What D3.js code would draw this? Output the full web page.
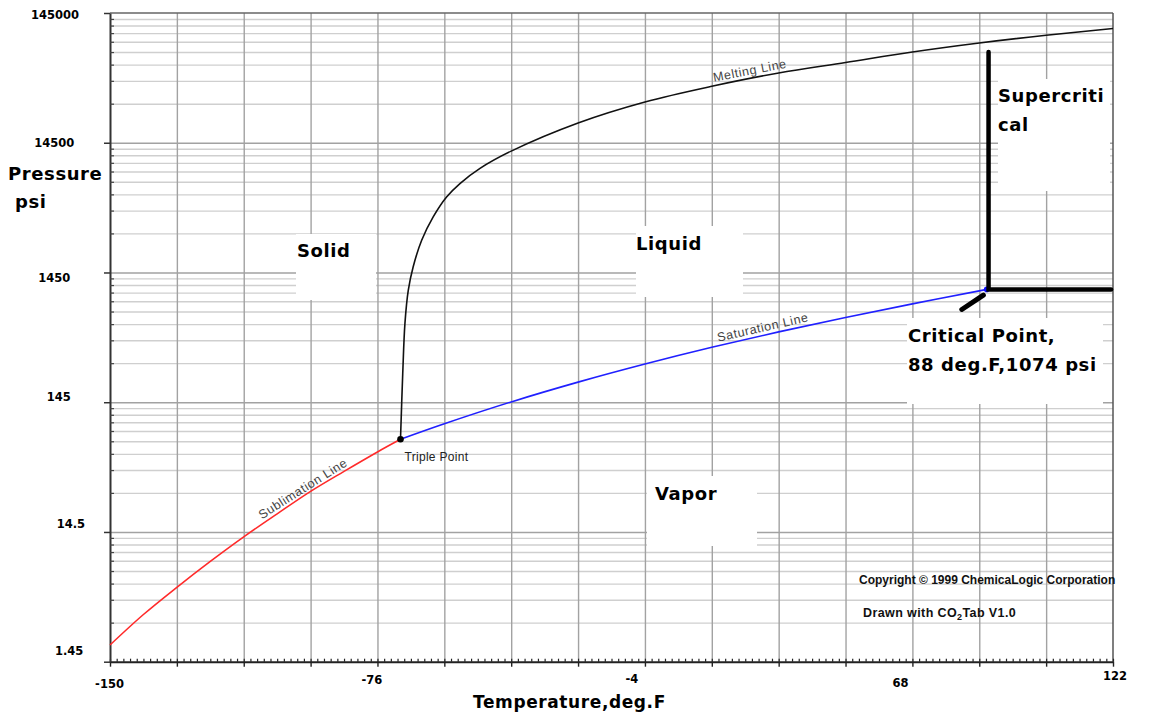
<!DOCTYPE html>
<html>
<head>
<meta charset="utf-8">
<script src="https://cdn.jsdelivr.net/npm/d3@7"></script>
<style>
  html, body { margin: 0; padding: 0; background: #fff; }
  svg { display: block; }
</style>
</head>
<body>
<svg id="chart" width="1149" height="717"></svg>
<script>
// CO2 phase boundaries: temperature in deg F, absolute pressure in psi
const sublimationT = [-148, -139, -130, -121, -112, -103, -94, -85, -76, -69.8];
const sublimationP = [1.95, 3.35, 5.43, 8.6, 13.3, 20.0, 29.8, 42.5, 60, 75.1];

const saturationT = [-69.8, -58, -40, -22, -4, 14, 32, 50, 68, 86, 88];
const saturationP = [75.1, 98.9, 145.8, 207.1, 285.6, 384.2, 505.4, 652.9, 830.9, 1046, 1074];

const meltingT = [-69.8, -69.2, -68.6, -67.7, -66.4, -64.1, -61, -57.4, -53.8, -48.4,
                  -40, -22, -4, 14, 32, 50, 68, 86, 104, 122];
const meltingP = [75.1, 240, 590, 1060, 1600, 2570, 3890, 5540, 7030, 9200,
                  12500, 20600, 29900, 39500, 50000, 60200, 72600, 85200, 97700, 110000];

const triplePoint = { t: -69.8, p: 75.1 };
const criticalPoint = { t: 88, p: 1074 };

// Supercritical region corner and the pointer to the critical point
const supercriticalT = [88.5, 88.5, 121.5];
const supercriticalP = [72600, 1074, 1074];
const pointerT = [87.1, 81.3];
const pointerP = [969, 752];

// Axis ticks
const xDomain = [-148, 122];
const yDomain = [1.45, 145000];
const xTickValues = [-148, -76, -4, 68, 122];
const xTickLabels = ["-150", "-76", "-4", "68", "122"];
const yTickValues = [1.45, 14.5, 145, 1450, 14500, 145000];
const yTickLabels = ["1.45", "14.5", "145", "1450", "14500", "145000"];

// ---- layout ----
const frame = { left: 110, top: 13, right: 1113, bottom: 661.7 };
const boldFont = "'DejaVu Sans', Verdana, sans-serif";
const plainFont = "'Liberation Sans', Arial, sans-serif";
// per-label nudges for tick text (dx from tick, baseline dy from tick)
const xTickNudge = [[-1, 26.6], [-6, 22.3], [-13.5, 21], [-12.5, 25], [1.5, 18.3]];
const yTickNudge = [[55, -7.7], [56.7, -4], [46.7, -1.7], [38.3, 8.7], [34.3, 4], [31, 5.3]];

const svg = d3.select("#chart");
const x = d3.scaleLinear().domain(xDomain).range([frame.left, frame.right]);
const y = d3.scaleLog().domain(yDomain).range([frame.bottom, frame.top]);
const plotW = frame.right - frame.left;
const plotH = frame.bottom - frame.top;

// ---- grid ----
const gridT = d3.range(xDomain[0] + 18, xDomain[1] - 1, 18);
const decades = yTickValues.slice(0, 5);
const minorP = [];
decades.forEach(d => { for (let k = 2; k <= 9; k++) minorP.push(d * k); });
const majorP = yTickValues.slice(1, 5);

svg.append("g")
  .attr("transform", `translate(${frame.left},0)`)
  .call(d3.axisLeft(y).tickValues(minorP).tickSize(-plotW).tickFormat(""))
  .call(g => g.select(".domain").remove())
  .selectAll("line").attr("stroke", "#cfcfcf").attr("stroke-width", 1.4);

svg.append("g")
  .attr("transform", `translate(${frame.left},0)`)
  .call(d3.axisLeft(y).tickValues(majorP).tickSize(-plotW).tickFormat(""))
  .call(g => g.select(".domain").remove())
  .selectAll("line").attr("stroke", "#a2a2a2").attr("stroke-width", 1.4);

svg.append("g")
  .attr("transform", `translate(0,${frame.bottom})`)
  .call(d3.axisBottom(x).tickValues(gridT).tickSize(-plotH).tickFormat(""))
  .call(g => g.select(".domain").remove())
  .selectAll("line").attr("stroke", "#a2a2a2").attr("stroke-width", 1.4);

// ---- white label backgrounds ----
const labelBoxes = [
  { x: 296, y: 234, w: 80, h: 66 },    // Solid
  { x: 636, y: 226, w: 107, h: 71 },   // Liquid
  { x: 647, y: 476, w: 110, h: 70 },   // Vapor
  { x: 998, y: 79, w: 112, h: 112 },   // Supercritical
  { x: 907, y: 318, w: 196, h: 86 }    // Critical point
];
svg.append("g").selectAll("rect").data(labelBoxes).join("rect")
  .attr("x", d => d.x).attr("y", d => d.y)
  .attr("width", d => d.w).attr("height", d => d.h)
  .attr("fill", "#fff");

// ---- frame and ticks ----
const frameG = svg.append("g");
frameG.append("line").attr("x1", x(xDomain[0])).attr("x2", x(xDomain[1]))
  .attr("y1", y(yDomain[1])).attr("y2", y(yDomain[1]))
  .attr("stroke", "#666").attr("stroke-width", 1.5);
frameG.append("line").attr("x1", x(xDomain[1])).attr("x2", x(xDomain[1]))
  .attr("y1", y(yDomain[1])).attr("y2", y(yDomain[0]))
  .attr("stroke", "#555").attr("stroke-width", 1.5);

// x axis: minor ticks (inside) every 1.8 deg F, major ticks below
const minorT = d3.range(0, 151).map(i => xDomain[0] + i * 1.8).filter(t => t <= xDomain[1] + 0.01);
svg.append("g")
  .attr("transform", `translate(0,${frame.bottom})`)
  .call(d3.axisBottom(x).tickValues(minorT).tickSize(-3).tickSizeOuter(0).tickFormat(""))
  .call(g => g.select(".domain").attr("stroke", "#222").attr("stroke-width", 2))
  .selectAll("line").attr("stroke", "#222").attr("stroke-width", 1.2);

svg.append("g")
  .attr("transform", `translate(0,${frame.bottom})`)
  .call(d3.axisBottom(x).tickValues([xDomain[0], ...gridT, xDomain[1]]).tickSize(5).tickSizeOuter(0).tickFormat(""))
  .call(g => g.select(".domain").remove())
  .selectAll("line").attr("stroke", "#222").attr("stroke-width", 1.4);

// y axis: minor ticks inside, decade ticks outside
svg.append("g")
  .attr("transform", `translate(${frame.left},0)`)
  .call(d3.axisLeft(y).tickValues(minorP).tickSize(-4).tickSizeOuter(0).tickFormat(""))
  .call(g => g.select(".domain").attr("stroke", "#333").attr("stroke-width", 2))
  .selectAll("line").attr("stroke", "#444").attr("stroke-width", 1.2);

svg.append("g")
  .attr("transform", `translate(${frame.left},0)`)
  .call(d3.axisLeft(y).tickValues(yTickValues).tickSize(6).tickSizeOuter(0).tickFormat(""))
  .call(g => g.select(".domain").remove())
  .selectAll("line").attr("stroke", "#333").attr("stroke-width", 1.5);

// tick labels
svg.append("g")
  .attr("transform", `translate(0,${frame.bottom})`)
  .call(d3.axisBottom(x).tickValues(xTickValues).tickFormat((d, i) => xTickLabels[i]).tickSize(0))
  .call(g => g.select(".domain").remove())
  .selectAll("text")
  .attr("dy", null)
  .attr("x", (d, i) => xTickNudge[i][0])
  .attr("y", (d, i) => xTickNudge[i][1])
  .attr("font-family", boldFont).attr("font-weight", "bold").attr("font-size", 11.5)
  .attr("fill", "#000");

svg.append("g")
  .attr("transform", `translate(${frame.left},0)`)
  .call(d3.axisLeft(y).tickValues(yTickValues).tickFormat((d, i) => yTickLabels[i]).tickSize(0))
  .call(g => g.select(".domain").remove())
  .selectAll("text")
  .attr("dy", null)
  .attr("text-anchor", "start")
  .attr("x", (d, i) => yTickNudge[i][0] - frame.left)
  .attr("y", (d, i) => yTickNudge[i][1])
  .attr("font-family", boldFont).attr("font-weight", "bold").attr("font-size", 11.5)
  .attr("fill", "#000");

// ---- phase boundaries ----
const toPts = (ts, ps) => ts.map((t, i) => [t, ps[i]]);
const line = d3.line().x(d => x(d[0])).y(d => y(d[1])).curve(d3.curveCatmullRom.alpha(0.5));
const curves = svg.append("g").attr("fill", "none").attr("stroke-width", 1.6);
curves.append("path").attr("d", line(toPts(sublimationT, sublimationP))).attr("stroke", "#ff2a2a");
curves.append("path").attr("d", line(toPts(saturationT, saturationP))).attr("stroke", "#2020ff");
curves.append("path").attr("d", line(toPts(meltingT, meltingP))).attr("stroke", "#111");

svg.append("circle").attr("cx", x(triplePoint.t)).attr("cy", y(triplePoint.p)).attr("r", 3.3).attr("fill", "#000");
svg.append("circle").attr("cx", x(criticalPoint.t)).attr("cy", y(criticalPoint.p)).attr("r", 2.8).attr("fill", "#1010ff");

// supercritical corner and pointer
const straight = d3.line().x(d => x(d[0])).y(d => y(d[1]));
svg.append("path").attr("d", straight(toPts(supercriticalT, supercriticalP)))
  .attr("fill", "none").attr("stroke", "#000").attr("stroke-width", 4.5)
  .attr("stroke-linecap", "round").attr("stroke-linejoin", "miter");
svg.append("path").attr("d", straight(toPts(pointerT, pointerP)))
  .attr("fill", "none").attr("stroke", "#000").attr("stroke-width", 5)
  .attr("stroke-linecap", "round");

// ---- curve labels following the local slope ----
function pointOn(ts, ps, t) {
  let i = 0;
  while (i < ts.length - 2 && t > ts[i + 1]) i++;
  const f = (t - ts[i]) / (ts[i + 1] - ts[i]);
  const lp = Math.log10(ps[i]) + f * (Math.log10(ps[i + 1]) - Math.log10(ps[i]));
  return [x(t), y(Math.pow(10, lp))];
}
function curveLabel(text, ts, ps, t0, t1, offset) {
  const a = pointOn(ts, ps, t0), b = pointOn(ts, ps, t1);
  const ang = Math.atan2(b[1] - a[1], b[0] - a[0]) * 180 / Math.PI;
  svg.append("text")
    .attr("transform", `translate(${a[0]},${a[1]}) rotate(${ang})`)
    .attr("y", -offset)
    .attr("font-family", plainFont).attr("font-size", 12.5).attr("letter-spacing", 0.6)
    .attr("fill", "#444")
    .text(text);
}
curveLabel("Melting Line", meltingT, meltingP, 14.8, 34, 4);
curveLabel("Saturation Line", saturationT, saturationP, 16, 40, 4);
curveLabel("Sublimation Line", sublimationT, sublimationP, -106.5, -80, 4);

svg.append("text")
  .attr("x", x(triplePoint.t) + 4).attr("y", y(triplePoint.p) + 22)
  .attr("font-family", plainFont).attr("font-size", 12).attr("letter-spacing", 0.3)
  .attr("fill", "#222").text("Triple Point");

// ---- region and axis titles ----
function boldText(str, px, py, size) {
  return svg.append("text").attr("x", px).attr("y", py)
    .attr("font-family", boldFont).attr("font-weight", "bold")
    .attr("font-size", size).attr("letter-spacing", 0.6)
    .attr("fill", "#000").text(str);
}
boldText("Solid", 297, 256.5, 18);
boldText("Liquid", 636, 250, 18);
boldText("Vapor", 655, 500, 18);
boldText("Supercriti", 998, 101.7, 18);
boldText("cal", 998, 130.7, 18);
boldText("Critical Point,", 908, 341.7, 18);
boldText("88 deg.F,1074 psi", 908, 370.7, 18);
boldText("Pressure", 8, 180, 18);
boldText("psi", 15, 208.3, 18);
boldText("Temperature,deg.F", 473, 708.3, 17);

svg.append("text").attr("x", 859).attr("y", 584)
  .attr("font-family", plainFont).attr("font-weight", "bold").attr("font-size", 12)
  .attr("fill", "#111").text("Copyright \u00A9 1999 ChemicaLogic Corporation");

const drawn = svg.append("text").attr("x", 863).attr("y", 617)
  .attr("font-family", plainFont).attr("font-weight", "bold").attr("font-size", 12.5)
  .attr("letter-spacing", 0.4).attr("fill", "#111");
drawn.append("tspan").text("Drawn with CO");
drawn.append("tspan").attr("dy", 3).attr("font-size", 9).text("2");
drawn.append("tspan").attr("dy", -3).text("Tab V1.0");
</script>
</body>
</html>
